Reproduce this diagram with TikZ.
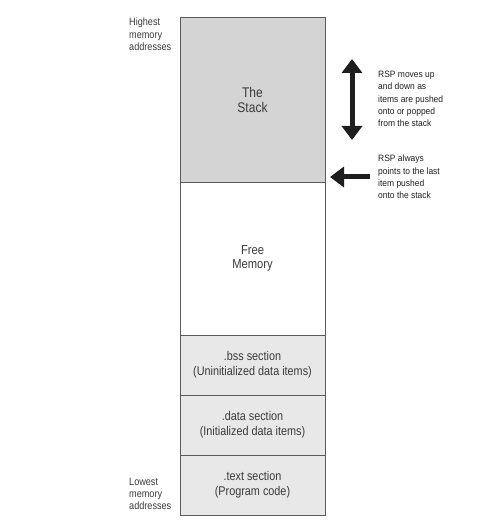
\documentclass[tikz,border=0pt]{standalone}
\usepackage{fontspec}
\setmainfont{Liberation Sans}[FakeStretch=0.86]
\newfontfamily\notefont{Liberation Sans}[FakeStretch=0.92]
\usetikzlibrary{arrows.meta,positioning}
\definecolor{stackgray}{HTML}{D4D4D4}
\definecolor{secgray}{HTML}{E8E8E8}
\definecolor{edgegray}{HTML}{5A5A5A}
\definecolor{inkdark}{HTML}{1E1E1E}
\definecolor{labelgray}{HTML}{3A3A3A}

\begin{document}
\begin{tikzpicture}[x=1pt, y=-1pt, >=Stealth,
  membox/.style={draw=edgegray, line width=0.9pt, minimum width=145pt,
    inner sep=0pt, outer sep=0pt, align=center, text=labelgray},
  sidelabel/.style={align=left, anchor=north west, inner sep=0pt, text=labelgray,
    font=\fontsize{10.6}{12.2}\selectfont},
  notetext/.style={align=left, anchor=north west, inner sep=0pt, text=inkdark,
    font=\notefont\fontsize{9.2}{12.3}\selectfont},
  fatarrow/.style={line width=5pt, inkdark,
    -{Triangle[width=20pt, length=14pt]}}]

\useasboundingbox (0,0) rectangle (477,521);

%%% Memory column, top to bottom
\node[membox, fill=stackgray, minimum height=165pt, anchor=north west,
  font=\fontsize{14}{15}\selectfont] (stack) at (180,17) {The\\Stack};
\node[membox, fill=white, minimum height=153pt, below=0pt of stack,
  font=\fontsize{13}{14}\selectfont] (free) {Free\\Memory};
\node[membox, fill=secgray, minimum height=60pt, below=0pt of free,
  font=\fontsize{12.6}{15}\selectfont] (bss) {.bss section\\(Uninitialized data items)};
\node[membox, fill=secgray, minimum height=60pt, below=0pt of bss,
  font=\fontsize{12.6}{15}\selectfont] (data) {.data section\\(Initialized data items)};
\node[membox, fill=secgray, minimum height=60pt, below=0pt of data,
  font=\fontsize{12.6}{15}\selectfont] (text) {.text section\\(Program code)};

%%% Address labels
\node[sidelabel] (high) at (129,18) {Highest\\memory\\addresses};
\node[sidelabel] (low) at (129,478) {Lowest\\memory\\addresses};

%%% RSP moves
\coordinate (rsptop) at (352,59);
\coordinate (rspbot) at (352,140);
\draw[fatarrow, {Triangle[width=20pt, length=14pt]}-{Triangle[width=20pt, length=14pt]}]
  (rsptop) -- (rspbot);
\node[notetext] (movenote) at (378,71)
  {RSP moves up\\and down as\\items are pushed\\onto or popped\\from the stack};

%%% RSP points
\node[notetext] (pointnote) at (378,155)
  {RSP always\\points to the last\\item pushed\\onto the stack};
\coordinate (rsptail) at (370,177);
\coordinate (rsphead) at (330,177);
\draw[fatarrow] (rsptail) -- (rsphead);

\end{tikzpicture}
\end{document}
